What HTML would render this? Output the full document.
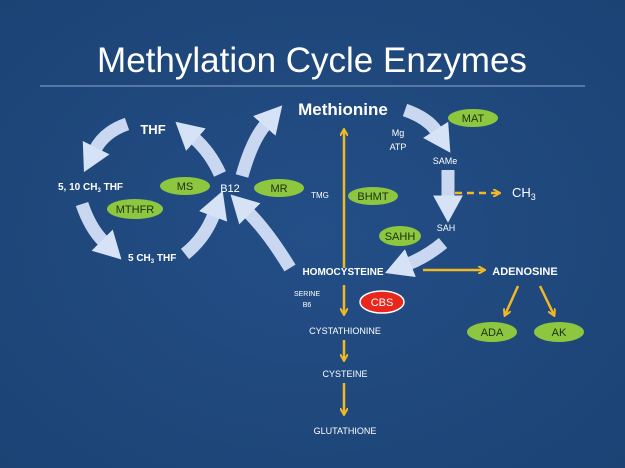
<!DOCTYPE html>
<html><head><meta charset="utf-8"><style>
body{margin:0;width:625px;height:468px;overflow:hidden;background:#1f477b;}
svg{display:block}
text{font-family:"Liberation Sans",sans-serif;fill:#fff}
</style></head><body>
<svg width="625" height="468" viewBox="0 0 625 468">
<defs>
<radialGradient id="bg" cx="50%" cy="50%" r="70%"><stop offset="0" stop-color="#234e87"/><stop offset="1" stop-color="#1c4374"/></radialGradient>
<marker id="bh" markerWidth="2.1" markerHeight="2.3" refX="0.2" refY="1.15" orient="auto" markerUnits="strokeWidth"><path d="M0,0 L2.1,1.15 L0,2.3 Z" fill="#d6e2f5"/></marker>
<marker id="yh" markerWidth="8" markerHeight="8" refX="6" refY="4" orient="auto" markerUnits="userSpaceOnUse"><path d="M0,0 L7,4 L0,8" fill="none" stroke="#f2b824" stroke-width="2"/></marker>
</defs>
<rect width="625" height="468" fill="url(#bg)"/>
<text x="312" y="72" font-size="35" text-anchor="middle">Methylation Cycle Enzymes</text>
<line x1="40" y1="86" x2="585" y2="86" stroke="#8fa8cc" stroke-width="1"/>

<g fill="none" stroke="#c9d8f0" stroke-width="13" marker-end="url(#bh)">
<path d="M127,124 Q104,132 95,150"/>
<path d="M82,204 Q90,228 104,242"/>
<path d="M185,254 Q205,238 214,214"/>
<path d="M220,174 Q210,152 194,138"/>
<path d="M242,176 Q252,140 266,124"/>
<path d="M290,268 Q268,232 248,212"/>
<path d="M405,110 Q428,118 437,132"/>
<path d="M448,170 L448,198"/>
<path d="M443,243 Q426,257 408,264"/>
</g>

<g stroke="#f2b824" stroke-width="2.5" fill="none" marker-end="url(#yh)">
<line x1="344" y1="268" x2="344" y2="130"/>
<line x1="344" y1="285" x2="344" y2="314"/>
<line x1="344" y1="340" x2="344" y2="360"/>
<line x1="344" y1="383" x2="344" y2="414"/>
<line x1="423" y1="270" x2="484" y2="270"/>
<line x1="455" y1="193" x2="499" y2="193" stroke-dasharray="7,5"/>
<line x1="518" y1="286" x2="505" y2="315"/>
<line x1="540" y1="286" x2="554" y2="315"/>
</g>

<g fill="#8dc63f">
<ellipse cx="135" cy="209" rx="28" ry="10"/>
<ellipse cx="185" cy="186" rx="25" ry="9"/>
<ellipse cx="279" cy="188" rx="25" ry="9"/>
<ellipse cx="373" cy="196" rx="25" ry="9"/>
<ellipse cx="473" cy="118" rx="25" ry="9"/>
<ellipse cx="400" cy="236" rx="21" ry="10"/>
<ellipse cx="492" cy="332" rx="25" ry="10"/>
<ellipse cx="559" cy="332" rx="25" ry="10"/>
</g>
<ellipse cx="382" cy="302" rx="22" ry="11" fill="#e8261b" stroke="#fff" stroke-width="1.5"/>

<g font-size="11" text-anchor="middle">
<text x="135" y="213" style="fill:#1a3010">MTHFR</text>
<text x="185" y="190" style="fill:#1a3010">MS</text>
<text x="279" y="192" style="fill:#1a3010">MR</text>
<text x="373" y="200" style="fill:#1a3010">BHMT</text>
<text x="473" y="122" style="fill:#1a3010">MAT</text>
<text x="400" y="240" style="fill:#1a3010">SAHH</text>
<text x="492" y="336" style="fill:#1a3010">ADA</text>
<text x="559" y="336" style="fill:#1a3010">AK</text>
</g>
<text x="382" y="306" font-size="11" text-anchor="middle">CBS</text>

<text x="153" y="134" font-size="13" font-weight="bold" text-anchor="middle">THF</text>
<text x="58" y="190" font-size="10" font-weight="bold">5, 10 CH<tspan font-size="6" dy="2">3</tspan><tspan dy="-2"> THF</tspan></text>
<text x="128" y="261" font-size="10" font-weight="bold">5 CH<tspan font-size="6" dy="2">3</tspan><tspan dy="-2"> THF</tspan></text>
<text x="230" y="192" font-size="11" text-anchor="middle">B12</text>
<text x="320" y="198" font-size="8" text-anchor="middle">TMG</text>
<text x="343" y="115" font-size="17" font-weight="bold" text-anchor="middle">Methionine</text>
<text x="398" y="136" font-size="9" text-anchor="middle">Mg</text>
<text x="398" y="150" font-size="9" text-anchor="middle">ATP</text>
<text x="445" y="164" font-size="9" text-anchor="middle">SAMe</text>
<text x="512" y="197" font-size="13">CH<tspan font-size="9" dy="3">3</tspan></text>
<text x="446" y="231" font-size="9" text-anchor="middle">SAH</text>
<text x="343" y="275" font-size="10" font-weight="bold" text-anchor="middle">HOMOCYSTEINE</text>
<text x="525" y="275" font-size="11" font-weight="bold" text-anchor="middle">ADENOSINE</text>
<text x="307" y="296" font-size="7" text-anchor="middle">SERINE</text>
<text x="307" y="307" font-size="7" text-anchor="middle">B6</text>
<text x="345" y="334" font-size="9" text-anchor="middle">CYSTATHIONINE</text>
<text x="345" y="377" font-size="9" text-anchor="middle">CYSTEINE</text>
<text x="345" y="434" font-size="9" text-anchor="middle">GLUTATHIONE</text>
</svg>
</body></html>
